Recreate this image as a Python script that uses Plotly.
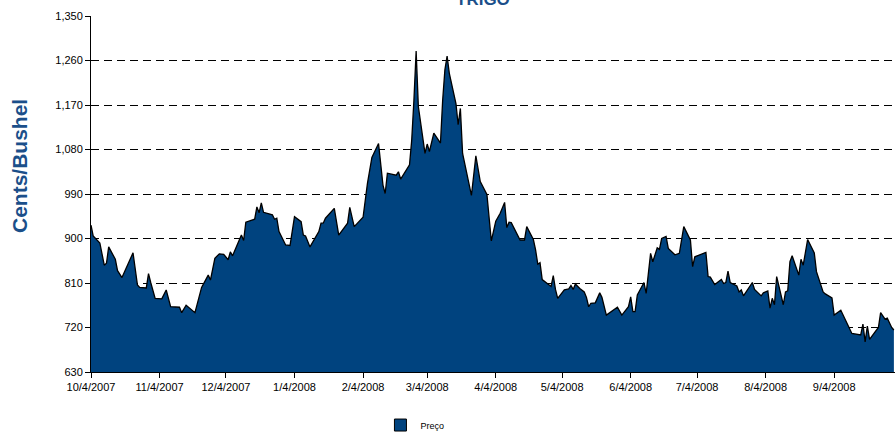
import plotly.graph_objects as go

dates = [
    "2007-10-04", "2007-10-05", "2007-10-08", "2007-10-10", "2007-10-11", "2007-10-12",
    "2007-10-15", "2007-10-16", "2007-10-18", "2007-10-23", "2007-10-25", "2007-10-26",
    "2007-10-29", "2007-10-30", "2007-10-31", "2007-11-02", "2007-11-05", "2007-11-07",
    "2007-11-09", "2007-11-13", "2007-11-14", "2007-11-16", "2007-11-20", "2007-11-23",
    "2007-11-26", "2007-11-27", "2007-11-29", "2007-12-01", "2007-12-03", "2007-12-05",
    "2007-12-06", "2007-12-07", "2007-12-11", "2007-12-12", "2007-12-13", "2007-12-17",
    "2007-12-18", "2007-12-19", "2007-12-20", "2007-12-21", "2007-12-25", "2007-12-26",
    "2007-12-27", "2007-12-28", "2007-12-31", "2008-01-02", "2008-01-04", "2008-01-07",
    "2008-01-08", "2008-01-09", "2008-01-11", "2008-01-15", "2008-01-16", "2008-01-17",
    "2008-01-18", "2008-01-22", "2008-01-24", "2008-01-28", "2008-01-29", "2008-01-31",
    "2008-02-04", "2008-02-06", "2008-02-08", "2008-02-11", "2008-02-13", "2008-02-14",
    "2008-02-15", "2008-02-19", "2008-02-20", "2008-02-21", "2008-02-25", "2008-02-26",
    "2008-02-27", "2008-02-28", "2008-02-29", "2008-03-03", "2008-03-04", "2008-03-05",
    "2008-03-07", "2008-03-10", "2008-03-11", "2008-03-12", "2008-03-13", "2008-03-14",
    "2008-03-17", "2008-03-18", "2008-03-19", "2008-03-20", "2008-03-24", "2008-03-26",
    "2008-03-28", "2008-03-31", "2008-04-02", "2008-04-04", "2008-04-06", "2008-04-08",
    "2008-04-09", "2008-04-10", "2008-04-11", "2008-04-15", "2008-04-17", "2008-04-18",
    "2008-04-21", "2008-04-22", "2008-04-23", "2008-04-24", "2008-04-25", "2008-04-28",
    "2008-04-29", "2008-04-30", "2008-05-01", "2008-05-02", "2008-05-05", "2008-05-07",
    "2008-05-08", "2008-05-09", "2008-05-10", "2008-05-12", "2008-05-14", "2008-05-15",
    "2008-05-16", "2008-05-17", "2008-05-19", "2008-05-21", "2008-05-22", "2008-05-24",
    "2008-05-28", "2008-05-29", "2008-05-31", "2008-06-03", "2008-06-04", "2008-06-05",
    "2008-06-06", "2008-06-07", "2008-06-10", "2008-06-11", "2008-06-13", "2008-06-14",
    "2008-06-16", "2008-06-17", "2008-06-18", "2008-06-20", "2008-06-21", "2008-06-24",
    "2008-06-26", "2008-06-28", "2008-07-01", "2008-07-02", "2008-07-03", "2008-07-08",
    "2008-07-09", "2008-07-10", "2008-07-12", "2008-07-15", "2008-07-16", "2008-07-17",
    "2008-07-18", "2008-07-19", "2008-07-22", "2008-07-23", "2008-07-24", "2008-07-25",
    "2008-07-29", "2008-07-30", "2008-08-02", "2008-08-03", "2008-08-05", "2008-08-06",
    "2008-08-07", "2008-08-08", "2008-08-09", "2008-08-12", "2008-08-13", "2008-08-14",
    "2008-08-15", "2008-08-16", "2008-08-19", "2008-08-20", "2008-08-21", "2008-08-23",
    "2008-08-26", "2008-08-27", "2008-08-30", "2008-08-31", "2008-09-03", "2008-09-04",
    "2008-09-07", "2008-09-12", "2008-09-16", "2008-09-17", "2008-09-18", "2008-09-19",
    "2008-09-20", "2008-09-24", "2008-09-25", "2008-09-27", "2008-09-28", "2008-09-30",
    "2008-10-01",
]

preco = [
    927, 905, 891, 846, 850, 883,
    858, 835, 821, 871, 806, 801,
    800, 829, 811, 779, 778, 796,
    762, 761, 750, 765, 750, 801,
    826, 816, 860, 869, 868, 857,
    873, 865, 907, 896, 933, 939,
    964, 952, 972, 953, 948, 939,
    941, 914, 887, 886, 944, 934,
    907, 905, 883, 914, 931, 931,
    941, 961, 907, 931, 963, 924,
    943, 1012, 1064, 1092, 1008, 991,
    1032, 1028, 1035, 1020, 1049, 1099,
    1180, 1279, 1167, 1072, 1091, 1076,
    1113, 1093, 1180, 1241, 1269, 1234,
    1173, 1130, 1163, 1072, 987, 1067,
    1015, 989, 895, 935, 951, 973,
    922, 933, 932, 897, 897, 924,
    898, 877, 848, 851, 817, 806,
    803, 825, 797, 779, 796, 798,
    805, 797, 808, 799, 792, 781,
    762, 769, 770, 790, 781, 745,
    757, 761, 745, 762, 782, 752,
    752, 786, 811, 789, 870, 853,
    881, 878, 900, 904, 880, 867,
    870, 924, 897, 843, 863, 872,
    823, 822, 807, 817, 809, 811,
    834, 811, 804, 792, 796, 784,
    811, 797, 784, 790, 794, 759,
    779, 766, 823, 766, 792, 794,
    853, 865, 826, 858, 846, 898,
    871, 833, 792, 788, 780, 745,
    755, 708, 705, 727, 691, 723,
    696, 720, 750, 737, 739, 720,
    715,
]

tick_dates = ["2007-10-04", "2007-11-04", "2007-12-04", "2008-01-04", "2008-02-04",
              "2008-03-04", "2008-04-04", "2008-05-04", "2008-06-04", "2008-07-04",
              "2008-08-04", "2008-09-04"]
tick_labels = ["10/4/2007", "11/4/2007", "12/4/2007", "1/4/2008", "2/4/2008", "3/4/2008",
               "4/4/2008", "5/4/2008", "6/4/2008", "7/4/2008", "8/4/2008", "9/4/2008"]
y_ticks = [630, 720, 810, 900, 990, 1080, 1170, 1260, 1350]

BLUE = "#00437F"
TITLE_BLUE = "#1B4F8A"

fig = go.Figure()
fig.add_trace(go.Scatter(
    x=dates, y=preco, name="Preço", mode="lines",
    fill="tozeroy", fillcolor=BLUE,
    line=dict(color="black", width=1.3),
    showlegend=False,
))
# legend entry (square swatch, as in the original legend)
fig.add_trace(go.Bar(
    x=[None], y=[None], name="Preço",
    marker=dict(color=BLUE, line=dict(color="black", width=1)),
    showlegend=True,
))

fig.update_layout(
    width=895, height=432,
    margin=dict(l=91, r=0, t=16, b=60, autoexpand=False),
    paper_bgcolor="white", plot_bgcolor="white",
    font=dict(family="Arial, Liberation Sans, sans-serif", size=11, color="black"),
    showlegend=True,
    legend=dict(orientation="h", x=0.36, y=-0.149, xanchor="left", yanchor="middle",
                font=dict(size=9, color="black"), itemwidth=30, tracegroupgap=0,
                bgcolor="rgba(0,0,0,0)"),
    xaxis=dict(
        type="date", range=["2007-10-04", "2008-10-01 12:00"],
        tickvals=tick_dates, ticktext=tick_labels,
        ticks="outside", ticklen=5, tickcolor="black",
        showline=True, linecolor="black", linewidth=1,
        showgrid=False, zeroline=False, automargin=False,
        tickfont=dict(size=11, color="black"),
    ),
    yaxis=dict(
        range=[630, 1350], tickvals=y_ticks, tickformat=",",
        ticks="outside", ticklen=5, tickcolor="black",
        showline=True, linecolor="black", linewidth=1,
        showgrid=True, gridcolor="black", gridwidth=1, griddash="8px,5px",
        zeroline=False, automargin=False,
        tickfont=dict(size=11, color="black"),
    ),
    annotations=[
        dict(text="<b>TRIGO</b>", xref="paper", yref="paper",
             x=0.4876, y=1.045, xanchor="center", yanchor="middle",
             showarrow=False, font=dict(size=17, color=TITLE_BLUE)),
        dict(text="<b>Cents/Bushel</b>", xref="paper", yref="paper",
             x=-0.0883, y=0.5787, xanchor="center", yanchor="middle", textangle=-90,
             showarrow=False, font=dict(size=21, color=TITLE_BLUE)),
    ],
)

fig.write_html(
    "out.html",
    config={"displayModeBar": False},
    post_script="document.body.style.margin='0';document.body.style.padding='0';"
                "document.documentElement.style.overflow='hidden';",
)
